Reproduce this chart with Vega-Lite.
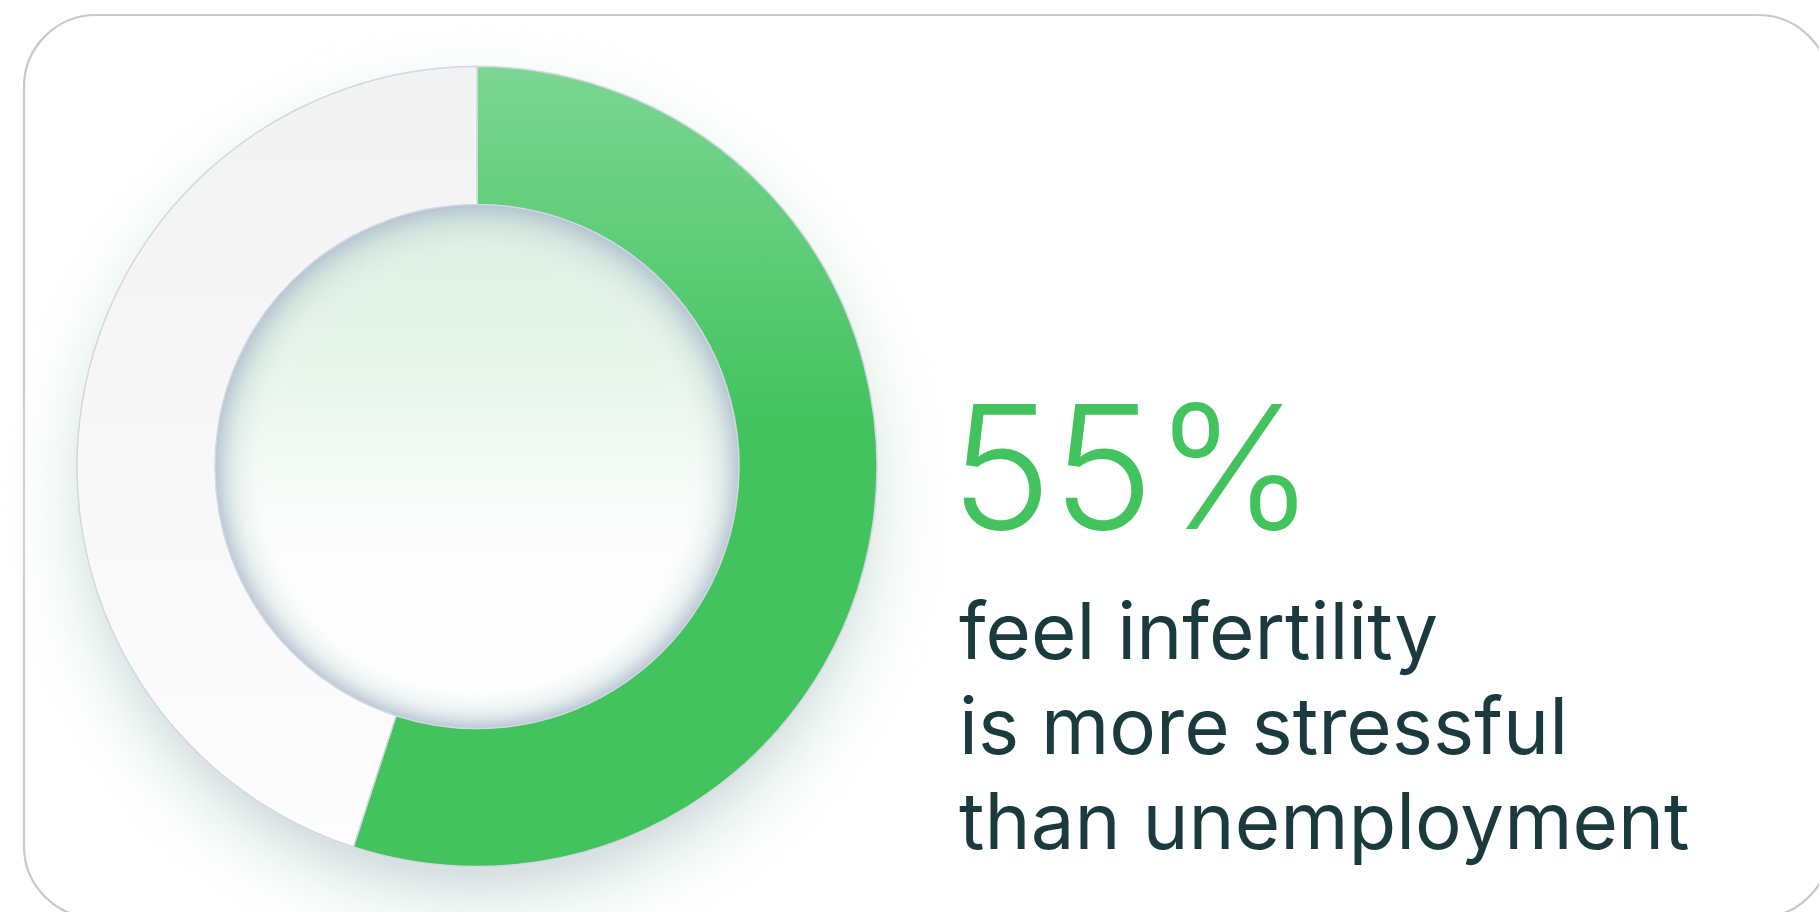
{
  "$schema": "https://vega.github.io/schema/vega-lite/v6.json",
  "width": 1806,
  "height": 903,
  "autosize": {"type": "none"},
  "padding": {"left": 24, "top": 15, "right": 0, "bottom": 0},
  "background": "#ffffff",
  "config": {
    "view": {"stroke": "#c9c9c9", "strokeWidth": 2.2, "cornerRadius": 72, "fill": "#ffffff"}
  },
  "datasets": {
    "ring": [
      {"part": "donut", "group": "agree", "share": 55, "rank": 1},
      {"part": "donut", "group": "other", "share": 45, "rank": 2}
    ],
    "disc": [{"part": "donut"}],
    "headline": [{"part": "text", "line": "pct", "label": "55%"}],
    "caption": [
      {"part": "text", "line": "l1", "label": "feel infertility"},
      {"part": "text", "line": "l2", "label": "is more stressful"},
      {"part": "text", "line": "l3", "label": "than unemployment"}
    ]
  },
  "resolve": {"scale": {"y": "independent"}},
  "layer": [
    {
      "data": {"name": "disc"},
      "mark": {
        "type": "arc",
        "radius": 480,
        "theta": 0,
        "theta2": 6.2832,
        "yOffset": 32,
        "fill": {
          "gradient": "radial",
          "x1": 0.5, "y1": 0.5, "r1": 0,
          "x2": 0.5, "y2": 0.5, "r2": 0.5,
          "stops": [
            {"offset": 0, "color": "rgba(255,255,255,0)"},
            {"offset": 0.78, "color": "rgba(198,212,214,0.7)"},
            {"offset": 0.88, "color": "rgba(222,238,228,0.35)"},
            {"offset": 1, "color": "rgba(255,255,255,0)"}
          ]
        }
      },
      "encoding": {
        "x": {"field": "part", "type": "nominal", "scale": {"type": "point", "domain": ["donut", "text"], "range": [453, 935], "padding": 0}, "axis": null}
      }
    },
    {
      "data": {"name": "disc"},
      "mark": {
        "type": "arc",
        "radius": 262,
        "theta": 0,
        "theta2": 6.2832,
        "fill": {
          "gradient": "linear",
          "x1": 0, "y1": 0, "x2": 0, "y2": 1,
          "stops": [
            {"offset": 0, "color": "#dcefe2"},
            {"offset": 0.3, "color": "#e6f5ea"},
            {"offset": 0.6, "color": "#fbfdfb"},
            {"offset": 1, "color": "#ffffff"}
          ]
        }
      },
      "encoding": {
        "x": {"field": "part", "type": "nominal", "axis": null}
      }
    },
    {
      "data": {"name": "disc"},
      "mark": {
        "type": "arc",
        "radius": 262,
        "theta": 0,
        "theta2": 6.2832,
        "fill": {
          "gradient": "radial",
          "x1": 0.5, "y1": 0.58, "r1": 0,
          "x2": 0.5, "y2": 0.5, "r2": 0.5,
          "stops": [
            {"offset": 0, "color": "rgba(255,255,255,0)"},
            {"offset": 0.8, "color": "rgba(255,255,255,0)"},
            {"offset": 0.93, "color": "rgba(190,210,210,0.35)"},
            {"offset": 1, "color": "rgba(170,185,205,0.8)"}
          ]
        }
      },
      "encoding": {
        "x": {"field": "part", "type": "nominal", "axis": null}
      }
    },
    {
      "data": {"name": "ring"},
      "mark": {"type": "arc", "radius": 400, "radius2": 262, "stroke": "#d3d7e2", "strokeWidth": 1.5},
      "encoding": {
        "x": {"field": "part", "type": "nominal", "axis": null},
        "theta": {"field": "share", "type": "quantitative", "stack": true},
        "order": {"field": "rank", "type": "quantitative"},
        "fill": {
          "condition": {
            "test": "datum.group === 'agree'",
            "value": {
              "gradient": "linear",
              "x1": 0, "y1": 0, "x2": 0, "y2": 1,
              "stops": [
                {"offset": 0, "color": "#7bd692"},
                {"offset": 0.45, "color": "#42c35d"},
                {"offset": 1, "color": "#42c35d"}
              ]
            }
          },
          "value": {
            "gradient": "linear",
            "x1": 0, "y1": 0, "x2": 0, "y2": 1,
            "stops": [
              {"offset": 0, "color": "#f2f2f3"},
              {"offset": 1, "color": "#fdfdfd"}
            ]
          }
        }
      }
    },
    {
      "data": {"name": "headline"},
      "mark": {"type": "text", "font": "Inter", "fontSize": 172, "fontWeight": 300, "align": "left", "baseline": "alphabetic", "dx": -9, "color": "#42c35d"},
      "encoding": {
        "x": {"field": "part", "type": "nominal", "axis": null},
        "y": {"field": "line", "type": "nominal", "scale": {"type": "point", "domain": ["pct"], "range": [514, 514], "padding": 0}, "axis": null},
        "text": {"field": "label"}
      }
    },
    {
      "data": {"name": "caption"},
      "mark": {"type": "text", "font": "Inter", "fontSize": 78, "fontWeight": 400, "align": "left", "baseline": "alphabetic", "color": "#1b3a3e"},
      "encoding": {
        "x": {"field": "part", "type": "nominal", "axis": null},
        "y": {"field": "line", "type": "nominal", "scale": {"type": "point", "domain": ["l1", "l2", "l3"], "range": [644, 834], "padding": 0}, "axis": null},
        "text": {"field": "label"}
      }
    }
  ]
}
